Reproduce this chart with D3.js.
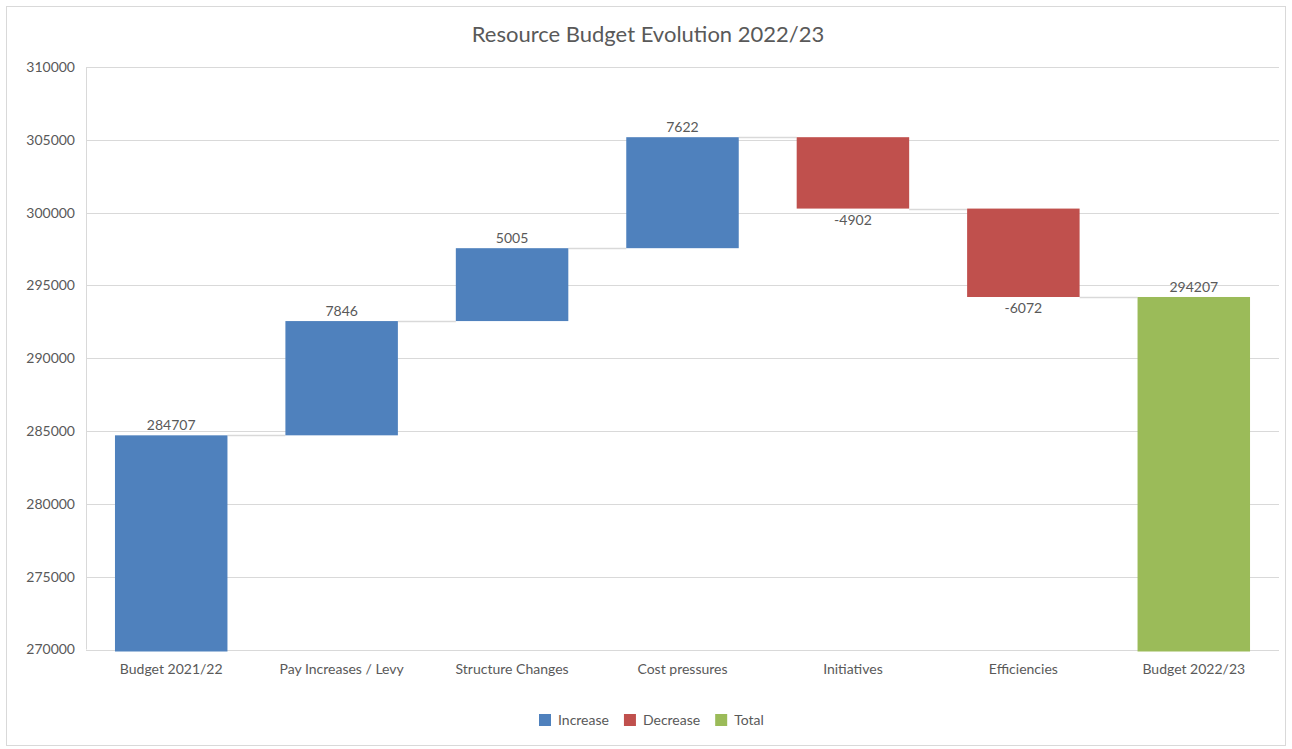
<!DOCTYPE html>
<html>
<head>
<meta charset="utf-8">
<script src="https://cdn.jsdelivr.net/npm/d3@7"></script>
<style>
  body { margin: 0; background: #fff; }
  svg text { font-family: Lato, "Open Sans", sans-serif; fill: #595959; }
</style>
</head>
<body>
<svg id="chart" width="1292" height="749"></svg>
<script>
// waterfall data
const categories = ['Budget 2021/22', 'Pay Increases / Levy', 'Structure Changes', 'Cost pressures', 'Initiatives', 'Efficiencies', 'Budget 2022/23'];
const changes = [284707, 7846, 5005, 7622, -4902, -6072, 294207];
const kinds = ['total-start', 'step', 'step', 'step', 'step', 'step', 'total'];
const yTicks = [270000, 275000, 280000, 285000, 290000, 295000, 300000, 305000, 310000];
const legendItems = ['Increase', 'Decrease', 'Total'];

const colors = { Increase: '#4f81bd', Decrease: '#c0504d', Total: '#9bbb59' };

const svg = d3.select('#chart');
const width = 1292, height = 749;
const margin = { top: 67, right: 13, bottom: 99, left: 86 };
const yMin = 270000, yMax = 310000;

// outer border
svg.append('rect')
    .attr('x', 6.5).attr('y', 6.5)
    .attr('width', width - 13).attr('height', height - 10)
    .attr('fill', '#fff')
    .attr('stroke', '#d9d9d9');

// build running totals
let running = 0;
const bars = categories.map((c, i) => {
    let start, end, type;
    if (kinds[i] === 'total-start') {
        start = yMin; end = changes[i]; running = changes[i]; type = 'Increase';
    } else if (kinds[i] === 'total') {
        start = yMin; end = changes[i]; type = 'Total';
    } else {
        start = running; end = running + changes[i]; running = end;
        type = changes[i] >= 0 ? 'Increase' : 'Decrease';
    }
    return { cat: c, value: changes[i], start, end, type };
});

const x = d3.scaleBand()
    .domain(categories)
    .range([margin.left, width - margin.right])
    .paddingInner(0.34)
    .paddingOuter(0.17);

const y = d3.scaleLinear()
    .domain([yMin, yMax])
    .range([height - margin.bottom - 0.5, margin.top]);

// gridlines
svg.append('g')
    .selectAll('line')
    .data(yTicks)
    .enter()
    .append('line')
    .attr('x1', margin.left).attr('x2', width - margin.right)
    .attr('y1', d => Math.round(y(d)) + 0.5)
    .attr('y2', d => Math.round(y(d)) + 0.5)
    .attr('stroke', '#d9d9d9')
    .attr('stroke-width', 1);

// left axis line
svg.append('line')
    .attr('x1', margin.left + 0.5).attr('x2', margin.left + 0.5)
    .attr('y1', y(yMax)).attr('y2', y(yMin))
    .attr('stroke', '#d9d9d9');

// y axis labels
const yAxis = d3.axisLeft(y).tickValues(yTicks).tickSize(0).tickPadding(11).tickFormat(d3.format('d'));
const yg = svg.append('g')
    .attr('transform', `translate(${margin.left},0)`)
    .call(yAxis);
yg.select('.domain').remove();
yg.selectAll('text').style('font-size', '14px').attr('fill', '#595959');

// x axis labels
const xAxis = d3.axisBottom(x).tickSize(0).tickPadding(15);
const xg = svg.append('g')
    .attr('transform', `translate(0,${y(yMin)})`)
    .call(xAxis);
xg.select('.domain').remove();
xg.selectAll('text').style('font-size', '14px').attr('fill', '#595959');

// connectors
svg.append('g')
    .selectAll('line')
    .data(bars.slice(0, -1))
    .enter()
    .append('line')
    .attr('x1', d => x(d.cat) + x.bandwidth())
    .attr('x2', (d, i) => x(categories[i + 1]))
    .attr('y1', d => Math.round(y(d.end)) + 0.5)
    .attr('y2', d => Math.round(y(d.end)) + 0.5)
    .attr('stroke', '#d9d9d9')
    .attr('stroke-width', 1.5);

// bars
svg.append('g')
    .selectAll('rect')
    .data(bars)
    .enter()
    .append('rect')
    .attr('x', d => x(d.cat))
    .attr('width', x.bandwidth())
    .attr('y', d => y(Math.max(d.start, d.end)))
    .attr('height', d => Math.abs(y(d.start) - y(d.end)) + (d.start === yMin ? 2 : 0))
    .attr('fill', d => colors[d.type]);

// value labels
svg.append('g')
    .selectAll('text')
    .data(bars)
    .enter()
    .append('text')
    .attr('x', d => x(d.cat) + x.bandwidth() / 2)
    .attr('y', d => d.value >= 0 ? y(d.end) - 5 : y(d.end) + 16)
    .attr('text-anchor', 'middle')
    .style('font-size', '14px')
    .text(d => d.value);

// title
svg.append('text')
    .attr('x', width / 2 + 2)
    .attr('y', 42)
    .attr('text-anchor', 'middle')
    .style('font-size', '22px')
    .text('Resource Budget Evolution 2022/23');

// legend
const legend = svg.append('g').attr('transform', 'translate(539,720)');
let lx = 0;
legendItems.forEach(name => {
    const item = legend.append('g').attr('transform', `translate(${lx},0)`);
    item.append('rect')
        .attr('x', 0).attr('y', -6)
        .attr('width', 12).attr('height', 12)
        .attr('fill', colors[name]);
    const t = item.append('text')
        .attr('x', 19).attr('y', 5)
        .style('font-size', '14px')
        .text(name);
    lx += 19 + t.node().getComputedTextLength() + 15;
});
</script>
</body>
</html>
